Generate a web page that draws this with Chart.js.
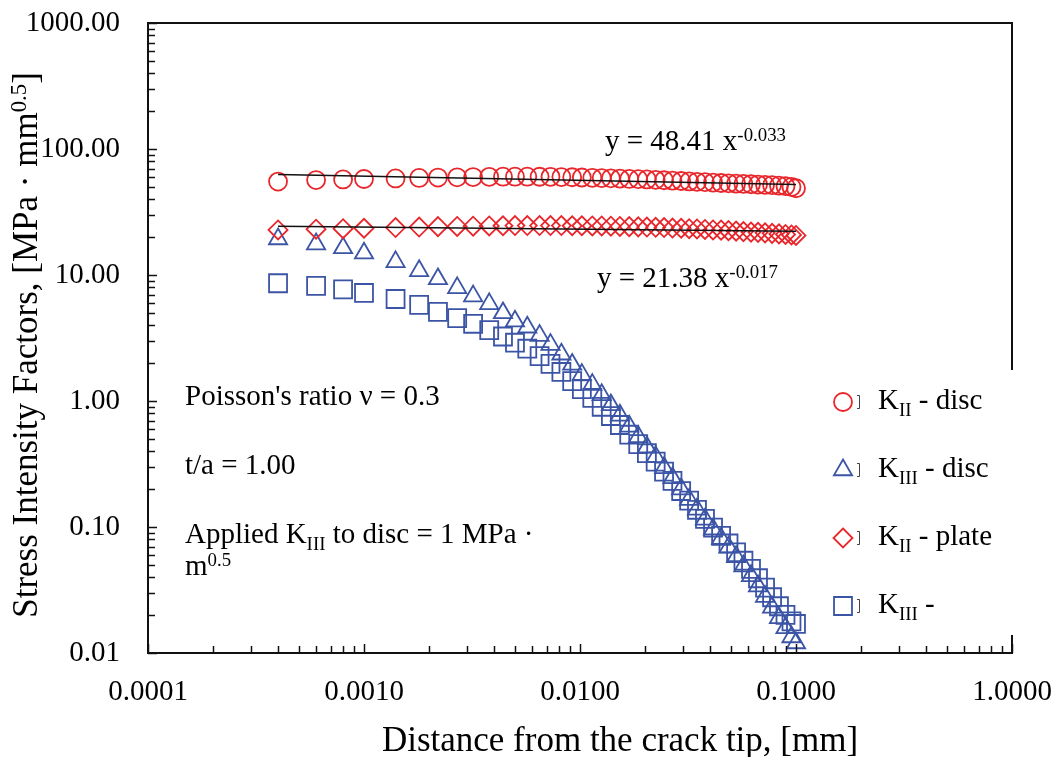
<!DOCTYPE html>
<html>
<head>
<meta charset="utf-8">
<title>Factores de intensidad de tensiones</title>
<script src="https://cdn.jsdelivr.net/npm/chart.js@4.4.1/dist/chart.umd.min.js"></script>
<style>
  html, body { margin: 0; padding: 0; background: #fff; }
  #contenedor { width: 1057px; height: 757px; }
</style>
</head>
<body>
<div id="contenedor"><canvas id="grafico" width="1057" height="757"></canvas></div>
<script>
// Datos
const distancia = [0.0004, 0.0006, 0.0008, 0.0010, 0.0014, 0.0018, 0.0022, 0.0027, 0.0032, 0.0038,
  0.0044, 0.0050, 0.0057, 0.0065, 0.0073, 0.0082, 0.0092, 0.0102, 0.0114, 0.0126,
  0.0139, 0.0153, 0.0169, 0.0186, 0.0204, 0.0224, 0.0245, 0.0268, 0.0294, 0.0320,
  0.0348, 0.0379, 0.0413, 0.0450, 0.0487, 0.0528, 0.0571, 0.0619, 0.0667, 0.0719,
  0.0775, 0.0834, 0.0894, 0.0953, 0.1000];

const kiiDisco = [55.1, 56.7, 57.3, 57.8, 58.4, 58.9, 59.3, 59.6, 59.9, 60.1,
  60.3, 60.3, 60.3, 60.2, 60.1, 59.9, 59.7, 59.4, 59.1, 58.8,
  58.5, 58.2, 57.9, 57.6, 57.3, 56.9, 56.5, 56.1, 55.7, 55.3,
  54.9, 54.5, 54.1, 53.7, 53.4, 53.1, 52.8, 52.5, 52.2, 51.9,
  51.6, 51.2, 50.7, 50.0, 48.8];

const kiiiDisco = [19.3, 17.6, 16.4, 14.9, 12.7, 10.8, 9.3, 7.9, 6.8, 5.9,
  5.0, 4.3, 3.85, 3.3, 2.8, 2.35, 1.95, 1.62, 1.35, 1.12,
  0.93, 0.77, 0.63, 0.52, 0.43, 0.36, 0.295, 0.245, 0.20, 0.165,
  0.138, 0.115, 0.096, 0.081, 0.069, 0.058, 0.049, 0.041, 0.034, 0.028,
  0.023, 0.019, 0.0158, 0.0134, 0.0120];

const kiiPlaca = [22.8, 23.1, 23.3, 23.5, 23.8, 24.0, 24.2, 24.3, 24.4, 24.5,
  24.6, 24.7, 24.7, 24.7, 24.7, 24.7, 24.6, 24.6, 24.5, 24.5,
  24.4, 24.3, 24.2, 24.1, 24.0, 23.9, 23.8, 23.6, 23.5, 23.3,
  23.2, 23.0, 22.8, 22.7, 22.5, 22.3, 22.1, 21.9, 21.8, 21.6,
  21.4, 21.2, 21.0, 20.8, 20.6];

const kiiiPlaca = [8.6, 8.2, 7.7, 7.2, 6.45, 5.8, 5.1, 4.55, 4.1, 3.65,
  3.25, 2.9, 2.6, 2.27, 1.97, 1.7, 1.44, 1.24, 1.06, 0.90,
  0.76, 0.645, 0.54, 0.455, 0.385, 0.33, 0.275, 0.232, 0.193, 0.162,
  0.137, 0.116, 0.099, 0.085, 0.074, 0.063, 0.054, 0.0465, 0.0392, 0.033,
  0.0277, 0.0235, 0.0201, 0.0178, 0.0170];

// Líneas de tendencia (extremos)
const ajusteX = [0.0004, 0.1];
const ajusteDisco = [62.7, 52.2];
const ajustePlaca = [24.4, 22.2];

// Décadas con etiqueta
const ticksX = [0.0001, 0.001, 0.01, 0.1, 1];
const ticksY = [0.01, 0.1, 1, 10, 100, 1000];

const rojo = "#E8262B";
const azul = "#3B54A5";
const fuente = "'Liberation Serif', 'Times New Roman', serif";

const puntos = (xs, ys) => xs.map((x, i) => ({ x: x, y: ys[i] }));

// Función para armar los ticks mayores y menores de una escala log
function construirTicks(decadas) {
  const lista = [];
  for (let i = 0; i < decadas.length - 1; i++) {
    for (let k = 1; k <= 9; k++) {
      lista.push({ value: decadas[i] * k, major: k === 1 });
    }
  }
  lista.push({ value: decadas[decadas.length - 1], major: true });
  return lista;
}

// Función para escribir texto con subíndices y superíndices
function escribir(ctx, partes, x, y, tam, alinear) {
  const tamano = (tipo) => (tipo === "n" ? tam : tam * 0.65);
  const anchos = partes.map(([texto, tipo]) => {
    ctx.font = `${tamano(tipo)}px ${fuente}`;
    return ctx.measureText(texto).width;
  });
  const total = anchos.reduce((a, b) => a + b, 0);
  let cx = alinear === "center" ? x - total / 2 : x;
  ctx.textAlign = "left";
  ctx.textBaseline = "alphabetic";
  partes.forEach(([texto, tipo], i) => {
    let dy = 0;
    if (tipo === "sub") dy = tam * 0.25;
    if (tipo === "sup") dy = -tam * 0.32;
    ctx.font = `${tamano(tipo)}px ${fuente}`;
    ctx.fillText(texto, cx, y + dy);
    cx += anchos[i];
  });
}

// Función para dibujar un marcador de la leyenda
function dibujarMarcador(ctx, estilo, x, y, r) {
  ctx.beginPath();
  if (estilo === "circle") {
    ctx.arc(x, y, r, 0, Math.PI * 2);
  } else if (estilo === "triangle") {
    ctx.moveTo(x, y - r);
    ctx.lineTo(x + 0.866 * r, y + 0.5 * r);
    ctx.lineTo(x - 0.866 * r, y + 0.5 * r);
    ctx.closePath();
  } else if (estilo === "rectRot") {
    ctx.moveTo(x, y - r);
    ctx.lineTo(x + r, y);
    ctx.lineTo(x, y + r);
    ctx.lineTo(x - r, y);
    ctx.closePath();
  } else {
    const s = r * Math.SQRT1_2;
    ctx.rect(x - s, y - s, 2 * s, 2 * s);
  }
  ctx.stroke();
}

const series = [
  { nombre: [["K", "n"], ["II", "sub"], [" - disc", "n"]], estilo: "circle", radio: 9, color: rojo },
  { nombre: [["K", "n"], ["III", "sub"], [" - disc", "n"]], estilo: "triangle", radio: 10.5, color: azul },
  { nombre: [["K", "n"], ["II", "sub"], [" - plate", "n"]], estilo: "rectRot", radio: 9.5, color: rojo },
  { nombre: [["K", "n"], ["III", "sub"], [" -", "n"]], estilo: "rect", radio: 12.7, color: azul },
];

const decoracion = {
  id: "decoracion",
  beforeDraw(chart) {
    const ctx = chart.ctx;
    ctx.save();
    ctx.fillStyle = "#fff";
    ctx.fillRect(0, 0, chart.width, chart.height);
    ctx.restore();
  },
  afterDraw(chart) {
    const ctx = chart.ctx;
    const area = chart.chartArea;
    const ex = chart.scales.x;
    const ey = chart.scales.y;
    ctx.save();

    // Marco
    ctx.strokeStyle = "#111";
    ctx.lineWidth = 2;
    ctx.strokeRect(area.left, area.top, area.right - area.left, area.bottom - area.top);

    // Ticks hacia adentro
    ctx.lineWidth = 1.5;
    ctx.beginPath();
    ey.ticks.forEach((t) => {
      const py = Math.round(ey.getPixelForValue(t.value)) + 0.5;
      const largo = t.major ? 9 : 7;
      ctx.moveTo(area.left, py);
      ctx.lineTo(area.left + largo, py);
    });
    ex.ticks.forEach((t) => {
      const px = Math.round(ex.getPixelForValue(t.value)) + 0.5;
      const largo = t.major ? 9 : 7;
      ctx.moveTo(px, area.bottom);
      ctx.lineTo(px, area.bottom - largo);
    });
    ctx.stroke();

    // Caja de la leyenda
    ctx.fillStyle = "#fff";
    ctx.fillRect(812, 370, 225, 265);
    series.forEach((s, i) => {
      const yc = 402 + i * 68;
      ctx.strokeStyle = s.color;
      ctx.lineWidth = 1.8;
      dibujarMarcador(ctx, s.estilo, 843, yc, s.radio);
      ctx.strokeStyle = "#444";
      ctx.lineWidth = 1;
      ctx.beginPath();
      ctx.moveTo(857, yc - 6.5);
      ctx.lineTo(859.5, yc - 6.5);
      ctx.lineTo(859.5, yc + 6.5);
      ctx.lineTo(857, yc + 6.5);
      ctx.stroke();
      ctx.fillStyle = "#000";
      escribir(ctx, s.nombre, 878, yc + 7, 29, "left");
    });

    // Textos
    ctx.fillStyle = "#000";
    escribir(ctx, [["y = 48.41 x", "n"], ["-0.033", "sup"]], 605, 150, 29, "left");
    escribir(ctx, [["y = 21.38 x", "n"], ["-0.017", "sup"]], 597, 287, 29, "left");
    escribir(ctx, [["Poisson's ratio \u03BD = 0.3", "n"]], 185, 405, 29, "left");
    escribir(ctx, [["t/a = 1.00", "n"]], 185, 474, 29, "left");
    escribir(ctx, [["Applied K", "n"], ["III", "sub"], [" to disc = 1 MPa \u00B7", "n"]], 185, 543, 29, "left");
    escribir(ctx, [["m", "n"], ["0.5", "sup"]], 185, 575, 29, "left");

    // Títulos de ejes
    escribir(ctx, [["Distance from the crack tip, [mm]", "n"]], 620, 751, 35, "center");
    ctx.translate(37, 345);
    ctx.rotate(-Math.PI / 2);
    escribir(ctx, [["Stress Intensity Factors, [MPa \u00B7 mm", "n"], ["0.5", "sup"], ["]", "n"]], 0, 0, 35, "center");
    ctx.restore();
  },
};

const ctx = document.getElementById("grafico").getContext("2d");

const grafico = new Chart(ctx, {
  type: "scatter",
  data: {
    datasets: [
      {
        label: "ajuste disc",
        data: puntos(ajusteX, ajusteDisco),
        showLine: true,
        borderColor: "#111",
        borderWidth: 1.5,
        pointRadius: 0,
        order: 0,
      },
      {
        label: "ajuste plate",
        data: puntos(ajusteX, ajustePlaca),
        showLine: true,
        borderColor: "#111",
        borderWidth: 1.5,
        pointRadius: 0,
        order: 0,
      },
      {
        label: "KII - disc",
        data: puntos(distancia, kiiDisco),
        pointStyle: "circle",
        pointRadius: 9,
        pointBorderWidth: 1.8,
        pointBorderColor: rojo,
        pointBackgroundColor: "rgba(0,0,0,0)",
        order: 4,
      },
      {
        label: "KIII - disc",
        data: puntos(distancia, kiiiDisco),
        pointStyle: "triangle",
        pointRadius: 10.5,
        pointBorderWidth: 1.8,
        pointBorderColor: azul,
        pointBackgroundColor: "rgba(0,0,0,0)",
        order: 3,
      },
      {
        label: "KII - plate",
        data: puntos(distancia, kiiPlaca),
        pointStyle: "rectRot",
        pointRadius: 9.5,
        pointBorderWidth: 1.8,
        pointBorderColor: rojo,
        pointBackgroundColor: "rgba(0,0,0,0)",
        order: 2,
      },
      {
        label: "KIII - plate",
        data: puntos(distancia, kiiiPlaca),
        pointStyle: "rect",
        pointRadius: 12.7,
        pointBorderWidth: 1.8,
        pointBorderColor: azul,
        pointBackgroundColor: "rgba(0,0,0,0)",
        order: 1,
      },
    ],
  },
  options: {
    responsive: false,
    animation: false,
    devicePixelRatio: 1,
    layout: { padding: { top: 23, right: 45, left: 0, bottom: 0 } },
    plugins: { legend: { display: false }, tooltip: { enabled: false } },
    scales: {
      x: {
        type: "logarithmic",
        min: 0.0001,
        max: 1,
        grid: { display: false, drawTicks: false },
        border: { display: false },
        afterBuildTicks: (escala) => { escala.ticks = construirTicks(ticksX); },
        afterFit: (escala) => {
          escala.height = 104;
          escala.paddingLeft = 0;
          escala.paddingRight = 0;
        },
        ticks: {
          autoSkip: false,
          maxRotation: 0,
          padding: 22,
          color: "#000",
          font: { family: fuente, size: 29 },
          callback: (valor) => (ticksX.includes(valor) ? valor.toFixed(4) : ""),
        },
      },
      y: {
        type: "logarithmic",
        min: 0.01,
        max: 1000,
        grid: { display: false, drawTicks: false },
        border: { display: false },
        afterBuildTicks: (escala) => { escala.ticks = construirTicks(ticksY); },
        afterFit: (escala) => {
          escala.width = 148;
          escala.paddingTop = 0;
          escala.paddingBottom = 0;
        },
        ticks: {
          autoSkip: false,
          padding: 28,
          color: "#000",
          font: { family: fuente, size: 29 },
          callback: (valor) => (ticksY.includes(valor) ? valor.toFixed(2) : ""),
        },
      },
    },
  },
  plugins: [decoracion],
});
</script>
</body>
</html>
